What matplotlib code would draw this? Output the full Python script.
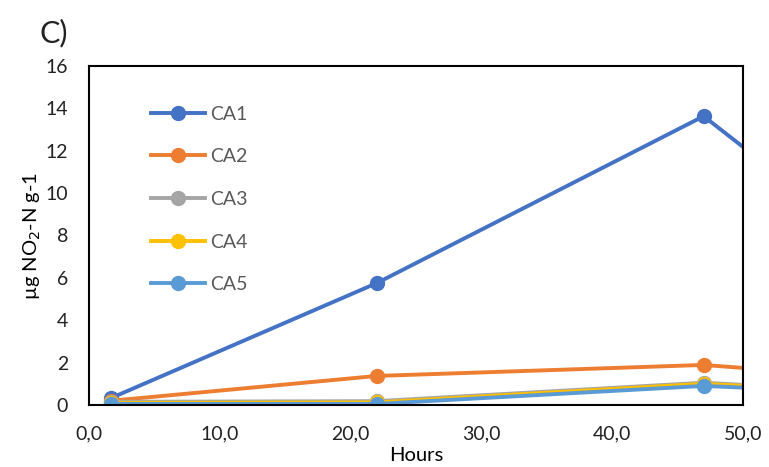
import matplotlib
matplotlib.use("Agg")
import matplotlib.pyplot as plt
from matplotlib.ticker import FuncFormatter

hours = [1.7, 22.0, 47.0, 72.0]
ca1 = [0.33, 5.75, 13.63, 1.6]
ca2 = [0.20, 1.37, 1.89, 0.72]
ca3 = [0.15, 0.18, 1.05, 0.22]
ca4 = [0.10, 0.12, 1.00, 0.20]
ca5 = [0.05, 0.05, 0.90, 0.23]
series = [("CA1", ca1, "#4472C4"), ("CA2", ca2, "#ED7D31"), ("CA3", ca3, "#A5A5A5"),
          ("CA4", ca4, "#FFC000"), ("CA5", ca5, "#5B9BD5")]

plt.rcParams['font.family'] = ['Lato', 'DejaVu Sans']
fig = plt.figure(figsize=(7.69, 4.67), dpi=100)
ax = fig.add_axes([0.1157, 0.1328, 0.966 - 0.1157, 0.8587 - 0.1328])

for name, vals, c in series:
    ax.plot(hours, vals, color=c, lw=2.8, marker='o', ms=10, label=name)

ax.set_xlim(0, 50)
ax.set_ylim(0, 16)
ax.set_xticks([0, 10, 20, 30, 40, 50])
ax.set_yticks(range(0, 17, 2))
ax.xaxis.set_major_formatter(FuncFormatter(lambda v, p: f"{v:.1f}".replace('.', ',')))
ax.tick_params(length=0, labelsize=14, colors='#222222')
ax.tick_params(axis='x', pad=15)
ax.tick_params(axis='y', pad=15)
for s in ax.spines.values():
    s.set_color('black')
    s.set_linewidth(1.5)

ax.set_xlabel("Hours", fontsize=14.5, labelpad=3)
ax.set_ylabel("µg NO$_2$-N g-1", fontsize=14.5, labelpad=2)

leg = ax.legend(loc='upper left', bbox_to_anchor=(0.068, 0.935), frameon=False,
                fontsize=14, labelspacing=1.32, handlelength=2.8, handletextpad=0.25)
for t in leg.get_texts():
    t.set_color('#595959')

fig.text(0.052, 0.91, "C)", fontsize=22, color='#222222')

fig.savefig("out.png", dpi=100)
